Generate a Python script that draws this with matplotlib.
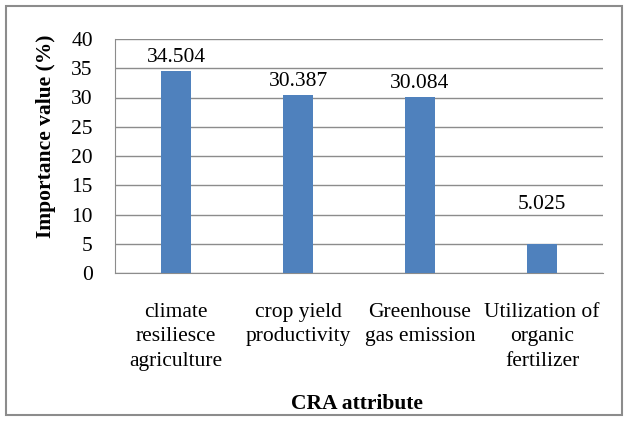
import matplotlib
matplotlib.use("Agg")
import matplotlib.pyplot as plt
from matplotlib.patches import Rectangle

# data
categories = ["climate\nresiliesce\nagriculture", "crop yield\nproductivity",
              "Greenhouse\ngas emission", "Utilization of\norganic\nfertilizer"]
values = [34.504, 30.387, 30.084, 5.025]
labels = ["34.504", "30.387", "30.084", "5.025"]
label_offsets = [3, 3, 3, 21]  # points above bar top
yticks = [0, 5, 10, 15, 20, 25, 30, 35, 40]

plt.rcParams['font.family'] = ['Liberation Serif', 'DejaVu Serif']
fs = 15.5

fig = plt.figure(figsize=(6.28, 4.21), dpi=100)
ax = fig.add_axes([115 / 628, 1 - 273 / 421, 488 / 628, 234 / 421])

x = range(len(values))
ax.bar(x, values, width=0.25, color='#4F81BD', zorder=3)
for i, v in enumerate(values):
    ax.annotate(labels[i], (i, v), xytext=(0, label_offsets[i]), textcoords='offset points',
                ha='center', va='bottom', fontsize=fs)

ax.set_xlim(-0.5, len(values) - 0.5)
ax.set_ylim(0, 40)
ax.set_yticks(yticks)
ax.set_yticklabels([str(t) for t in yticks], fontsize=fs)
ax.set_xticks(list(x))
ax.set_xticklabels(categories, fontsize=fs, linespacing=1.38)
ax.tick_params(axis='y', length=0, pad=16)
ax.tick_params(axis='x', length=0, pad=21.5)
ax.yaxis.grid(True, color='#8c8c8c', linewidth=1, zorder=0)
for s in ['top', 'right']:
    ax.spines[s].set_visible(False)
ax.spines['left'].set_color('#8c8c8c')
ax.spines['bottom'].set_color('#8c8c8c')

ax.set_ylabel('Importance value (%)', fontsize=fs, fontweight='bold')
ax.yaxis.set_label_coords(-0.121, 0.585)
fig.text(357 / 628, 1 - 404 / 421, 'CRA attribute', fontsize=fs, fontweight='bold',
         ha='center', va='center')

# outer chart border
fig.patches.append(Rectangle((6 / 628, 6 / 421), 616 / 628, 409 / 421, transform=fig.transFigure,
                             fill=False, edgecolor='#8c8c8c', linewidth=1.5))

fig.savefig('out.png', dpi=100)
